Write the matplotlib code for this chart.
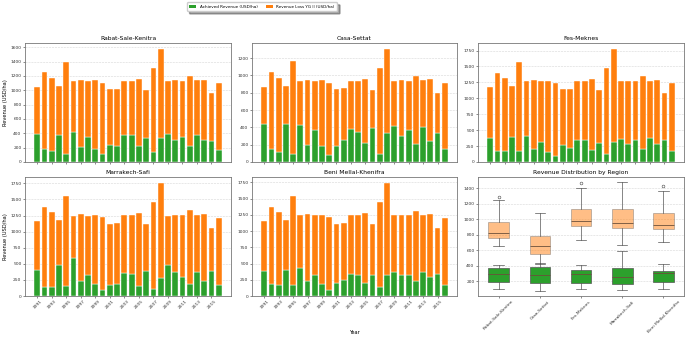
import matplotlib
matplotlib.use("Agg")
import matplotlib.pyplot as plt
from matplotlib.patches import Patch
import numpy as np

years = list(range(1991, 2017))
regions = ["Rabat-Sale-Kenitra", "Casa-Settat", "Fes-Meknes", "Marrakech-Safi", "Beni Mellal-Khenifra"]

achieved_rabat = [385,180,150,370,115,415,215,345,180,105,240,225,380,370,220,335,135,330,385,300,350,230,380,310,290,165]
loss_rabat = [660,1070,1025,690,1285,715,925,785,960,995,775,795,755,765,935,670,1175,1250,745,840,785,970,760,840,670,935]

achieved_casa = [440,150,120,435,90,425,195,365,185,80,180,260,385,345,215,390,90,340,415,305,365,205,400,240,335,145]
loss_casa = [425,890,855,445,1075,510,755,570,760,830,665,590,555,595,745,445,1000,970,520,640,575,790,545,715,465,770]

achieved_fes = [375,180,180,385,170,410,205,315,160,95,270,225,340,350,185,305,130,315,355,290,340,210,370,290,350,165]
loss_fes = [800,1225,1140,805,1405,860,1080,955,1120,1145,875,925,935,925,1115,830,1345,1465,915,990,935,1135,910,1000,730,1075]

achieved_marrakech = [405,145,135,485,160,585,230,330,190,90,165,190,350,340,155,385,105,285,480,365,300,190,370,235,395,165]
loss_marrakech = [755,1240,1170,690,1395,665,1040,920,1070,1135,960,945,905,915,1130,730,1355,1475,770,900,955,1140,890,1040,665,1050]

achieved_beni = [390,190,175,405,175,425,230,330,190,100,205,245,340,325,200,330,140,320,375,330,330,230,375,285,340,175]
loss_beni = [760,1185,1120,760,1370,815,1025,910,1060,1110,910,880,905,920,1075,775,1305,1425,865,920,915,1085,875,980,710,1030]

achieved_all = [achieved_rabat, achieved_casa, achieved_fes, achieved_marrakech, achieved_beni]
loss_all = [loss_rabat, loss_casa, loss_fes, loss_marrakech, loss_beni]

GREEN = "#2ca02c"
ORANGE = "#ff7f0e"
TICK_FS = 3.2
TITLE_FS = 4.3
LABEL_FS = 3.7

fig = plt.figure(figsize=(6.85, 3.37), dpi=100)
W, H = 685.0, 337.0
cols = [(25, 231), (252, 457), (478, 684)]
rows = [(43, 162), (177, 296)]

def make_ax(r, c):
    x0, x1 = cols[c]
    y0, y1 = rows[r]
    return fig.add_axes([x0 / W, 1 - y1 / H, (x1 - x0) / W, (y1 - y0) / H])

def style(ax):
    for s in ax.spines.values():
        s.set_color("#777777")
        s.set_linewidth(0.6)
    ax.tick_params(labelsize=TICK_FS, length=1.5, width=0.4, pad=1, colors="#333333")
    ax.grid(axis="y", linestyle="--", linewidth=0.4, color="#cccccc", alpha=0.8)
    ax.set_axisbelow(True)

positions = [(0, 0), (0, 1), (0, 2), (1, 0), (1, 1)]
for i, name in enumerate(regions):
    r, c = positions[i]
    ax = make_ax(r, c)
    style(ax)
    ax.bar(years, achieved_all[i], width=0.8, color=GREEN, edgecolor="white", linewidth=0.3)
    ax.bar(years, loss_all[i], width=0.8, bottom=achieved_all[i], color=ORANGE,
           edgecolor="white", linewidth=0.3)
    ax.set_title(name, fontsize=TITLE_FS, pad=2)
    ax.set_xticks(years[::2])
    if r == 1:
        ax.set_xticklabels([str(y) for y in years[::2]], rotation=45)
    else:
        ax.set_xticklabels([])
    if c == 0:
        ax.set_ylabel("Revenue (USD/ha)", fontsize=LABEL_FS, labelpad=2)
    if r == 1 and c == 1:
        ax.set_xlabel("Year", fontsize=LABEL_FS, labelpad=14)

# Box plot panel
axb = make_ax(1, 2)
style(axb)
pos = np.arange(1, len(regions) + 1)
bp_loss = axb.boxplot(loss_all, positions=pos, widths=0.5, patch_artist=True,
                      flierprops=dict(marker="o", markersize=2, markerfacecolor="none",
                                      markeredgecolor="#444444", markeredgewidth=0.4))
bp_ach = axb.boxplot(achieved_all, positions=pos, widths=0.5, patch_artist=True,
                     flierprops=dict(marker="o", markersize=2, markerfacecolor="none",
                                     markeredgecolor="#444444", markeredgewidth=0.4))
for bp, fc, a in [(bp_loss, ORANGE, 0.5), (bp_ach, GREEN, 1.0)]:
    for b in bp["boxes"]:
        b.set_facecolor(fc)
        b.set_alpha(a)
        b.set_edgecolor("#555555")
        b.set_linewidth(0.5)
    for k in ["whiskers", "caps"]:
        for l in bp[k]:
            l.set_color("#555555")
            l.set_linewidth(0.5)
    for l in bp["medians"]:
        l.set_color("#6b4f3a")
        l.set_linewidth(0.6)
axb.set_xticks(pos)
axb.set_xticklabels(regions, rotation=45)
axb.set_title("Revenue Distribution by Region", fontsize=TITLE_FS, pad=2)

handles = [Patch(facecolor=GREEN, label="Achieved Revenue (USD/ha)"),
           Patch(facecolor=ORANGE, label="Revenue Loss YG II (USD/ha)")]
fig.legend(handles=handles, loc="upper center", bbox_to_anchor=(262 / W, 1.0), ncol=2,
           fontsize=3.0, frameon=True, shadow=True, handlelength=1.7, handleheight=0.8,
           handletextpad=0.8, borderpad=0.6, columnspacing=2.0, fancybox=True)

fig.savefig("out.png", dpi=100)
